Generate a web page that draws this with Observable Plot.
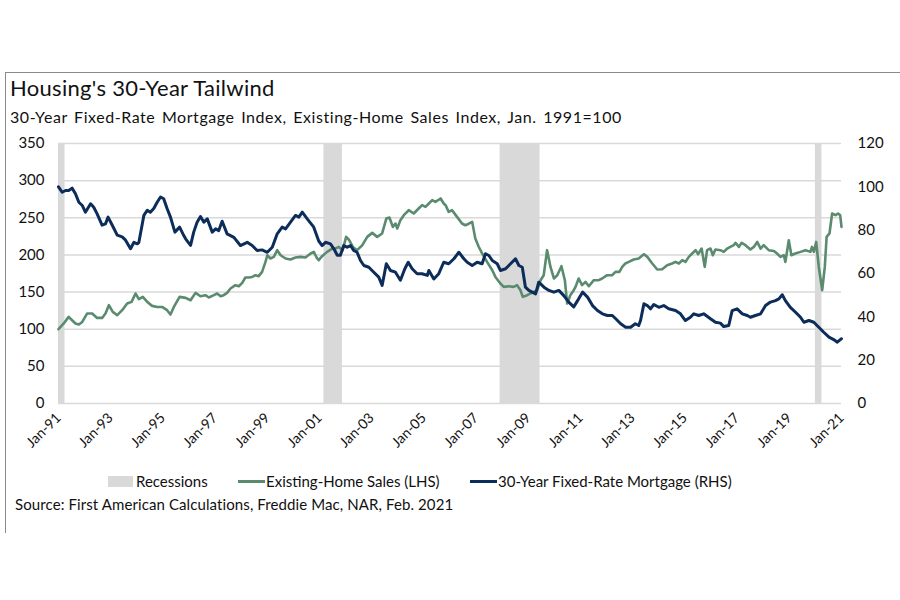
<!DOCTYPE html>
<html>
<head>
<meta charset="utf-8">
<script src="https://cdn.jsdelivr.net/npm/d3@7"></script>
<script src="https://cdn.jsdelivr.net/npm/@observablehq/plot@0.6"></script>
<style>
  html, body { margin: 0; padding: 0; background: #fff; }
  #wrap { position: relative; width: 900px; height: 600px; background: #fff; font-family: Lato, "Open Sans", sans-serif; color: #111; overflow: hidden; }
  #frame { position: absolute; left: 5px; top: 72px; width: 900px; height: 460px; border-top: 1px solid #8a8a8a; border-left: 1px solid #8a8a8a; }
  #title { position: absolute; left: 10px; top: 77px; font-size: 22px; line-height: 21px; letter-spacing: 0.3px; white-space: nowrap; }
  #subtitle { position: absolute; left: 10px; top: 109px; font-size: 16px; line-height: 15px; letter-spacing: 0.55px; word-spacing: 2px; white-space: nowrap; }
  #chart { position: absolute; left: 0; top: 125px; }
  #legend { position: absolute; left: 0; top: 474px; font-size: 15px; line-height: 15px; white-space: nowrap; }
  .item { position: absolute; top: 0; display: flex; align-items: center; }
  .swatch-rect { width: 25px; height: 11px; background: #d9d9d9; margin-right: 3px; }
  .swatch-line { width: 27px; height: 3px; margin-right: 1px; }
  #source { position: absolute; left: 15px; top: 497px; font-size: 15px; line-height: 15px; letter-spacing: 0.1px; white-space: nowrap; }
</style>
</head>
<body>
<div id="wrap">
  <div id="frame"></div>
  <div id="title">Housing's 30-Year Tailwind</div>
  <div id="subtitle">30-Year Fixed-Rate Mortgage Index, Existing-Home Sales Index, Jan. 1991=100</div>
  <div id="chart"></div>
  <div id="legend">
    <div class="item" style="left:108px"><span class="swatch-rect"></span><span>Recessions</span></div>
    <div class="item" style="left:238px"><span class="swatch-line" style="background:#5a8b6f"></span><span>Existing-Home Sales (LHS)</span></div>
    <div class="item" style="left:470px"><span class="swatch-line" style="background:#0c2c59"></span><span>30-Year Fixed-Rate Mortgage (RHS)</span></div>
  </div>
  <div id="source">Source: First American Calculations, Freddie Mac, NAR, Feb. 2021</div>
</div>
<script>
// ---- Data ----
const xTickYears = [1991, 1993, 1995, 1997, 1999, 2001, 2003, 2005, 2007, 2009, 2011, 2013, 2015, 2017, 2019, 2021];
const leftTicks = [0, 50, 100, 150, 200, 250, 300, 350];
const rightTicks = [0, 20, 40, 60, 80, 100, 120];

const recessionStart = [1991.0, 2001.17, 2007.92, 2020.0];
const recessionEnd   = [1991.25, 2001.88, 2009.45, 2020.25];

// 30-Year Fixed-Rate Mortgage index (RHS), Jan. 1991 = 100
const mortgageYears = [1991.0,1991.14,1991.27,1991.39,1991.52,1991.65,1991.78,1991.91,1992.03,1992.23,1992.35,1992.48,1992.67,1992.8,1992.9,1993.06,1993.25,1993.44,1993.57,1993.76,1993.89,1994.02,1994.08,1994.27,1994.4,1994.52,1994.65,1994.78,1994.91,1995.03,1995.16,1995.29,1995.46,1995.64,1995.8,1995.87,1996.06,1996.18,1996.31,1996.44,1996.57,1996.7,1996.89,1997.02,1997.14,1997.27,1997.46,1997.72,1997.97,1998.23,1998.42,1998.61,1998.8,1999.0,1999.19,1999.38,1999.57,1999.7,1999.89,2000.08,2000.21,2000.34,2000.53,2000.78,2000.97,2001.1,2001.23,2001.42,2001.55,2001.68,2001.8,2001.93,2002.06,2002.19,2002.31,2002.44,2002.57,2002.7,2002.89,2003.08,2003.27,2003.4,2003.56,2003.72,2003.91,2004.1,2004.27,2004.4,2004.55,2004.74,2004.93,2005.13,2005.19,2005.38,2005.57,2005.76,2005.95,2006.15,2006.34,2006.53,2006.66,2006.85,2007.04,2007.23,2007.36,2007.49,2007.62,2007.81,2007.93,2008.13,2008.32,2008.51,2008.64,2008.77,2008.89,2009.02,2009.15,2009.28,2009.4,2009.6,2009.79,2009.98,2010.17,2010.36,2010.55,2010.74,2010.93,2011.08,2011.27,2011.46,2011.65,2011.84,2012.03,2012.22,2012.35,2012.54,2012.73,2012.92,2013.1,2013.23,2013.3,2013.43,2013.56,2013.68,2013.81,2014.0,2014.19,2014.38,2014.64,2014.83,2015.02,2015.21,2015.34,2015.53,2015.72,2015.98,2016.17,2016.36,2016.49,2016.68,2016.81,2017.0,2017.2,2017.39,2017.51,2017.7,2017.9,2018.09,2018.28,2018.47,2018.6,2018.73,2018.85,2019.04,2019.24,2019.43,2019.56,2019.75,2019.94,2020.13,2020.32,2020.52,2020.7,2020.84,2021.0];
const mortgageValues = [100,97.5,98.3,98.3,99.4,96.8,92.9,91.4,88.3,92.2,90.6,87.5,82.3,82.9,86,82.3,77.7,76.9,75.4,71.4,74.4,73.7,74.4,86.8,89.2,88.3,90,92.9,95.3,94.5,90,86,79.1,81.4,77.5,76,73,79.1,83.7,86.3,83.7,85.2,79.1,80.6,79.8,84.1,78.3,76.7,72.9,74.4,72.9,70.6,70.9,69.8,72.1,78.3,81.4,80.6,83.7,86.8,86,88.3,85.2,81.4,75,72.9,74.4,73.7,71.4,68.4,68.4,72.9,72.1,72.9,70.6,69.8,66,63.7,62.9,60.6,58.3,54.5,64.5,61.4,60.6,56.9,62.2,65.2,62.2,59.9,59.9,59.1,61.4,57.5,59.9,65.2,64.5,66.8,69.8,66.8,65.2,63.7,65.2,64.5,69.1,68.3,66,64.5,61.4,62.2,64.5,66.8,63.7,62.9,53.7,52.2,51.4,50.6,56,53.7,52.2,51.4,52.2,49.8,46.8,44.6,48.3,51.4,49.1,45.2,42.9,41.4,40.6,40.6,39.1,36.8,35.2,35.2,36.8,36,38.3,46,45.2,43.7,45.7,44.4,45.2,43.7,42.9,41.4,38.3,39.8,41.4,40.6,41.4,39.1,37.5,37.1,35.5,36,42.9,43.7,41.4,40.6,39.8,40.6,41.4,45.2,46.8,47.5,48.3,50.2,47.5,44.4,42.1,39.8,37.5,38.3,37.5,35.2,32.9,30.6,29.5,28.3,29.9];

// Existing-Home Sales index (LHS), Jan. 1991 = 100
const salesYears = [1991.0,1991.2,1991.39,1991.52,1991.65,1991.78,1991.91,1992.1,1992.29,1992.48,1992.67,1992.8,1992.93,1993.08,1993.25,1993.44,1993.63,1993.8,1993.95,1994.08,1994.23,1994.4,1994.59,1994.78,1994.97,1995.16,1995.29,1995.42,1995.64,1995.87,1996.06,1996.25,1996.44,1996.63,1996.76,1996.95,1997.08,1997.21,1997.33,1997.46,1997.59,1997.78,1997.91,1998.04,1998.16,1998.29,1998.42,1998.55,1998.67,1998.8,1998.93,1999.0,1999.12,1999.25,1999.38,1999.51,1999.7,1999.89,2000.08,2000.27,2000.46,2000.66,2000.78,2000.91,2000.97,2001.1,2001.29,2001.49,2001.61,2001.74,2001.89,2002.02,2002.12,2002.28,2002.44,2002.64,2002.83,2003.02,2003.21,2003.4,2003.56,2003.68,2003.81,2003.91,2003.98,2004.1,2004.23,2004.42,2004.61,2004.8,2004.93,2005.06,2005.19,2005.32,2005.44,2005.64,2005.76,2005.83,2005.95,2006.08,2006.27,2006.46,2006.59,2006.72,2006.85,2006.97,2007.1,2007.23,2007.42,2007.62,2007.74,2007.93,2008.06,2008.25,2008.44,2008.57,2008.7,2008.79,2008.96,2009.08,2009.21,2009.34,2009.47,2009.59,2009.72,2009.85,2009.98,2010.11,2010.27,2010.4,2010.49,2010.61,2010.74,2010.81,2010.93,2011.06,2011.19,2011.32,2011.51,2011.7,2011.83,2012.02,2012.21,2012.34,2012.49,2012.6,2012.72,2012.85,2013.04,2013.23,2013.43,2013.56,2013.75,2013.94,2014.13,2014.32,2014.51,2014.64,2014.77,2014.9,2015.02,2015.15,2015.28,2015.41,2015.51,2015.64,2015.76,2015.85,2015.98,2016.07,2016.17,2016.36,2016.49,2016.62,2016.74,2016.87,2016.94,2017.07,2017.17,2017.32,2017.51,2017.64,2017.77,2017.9,2018.02,2018.21,2018.41,2018.53,2018.66,2018.79,2018.85,2018.98,2019.08,2019.23,2019.43,2019.62,2019.81,2019.87,2019.94,2020.03,2020.13,2020.26,2020.36,2020.43,2020.54,2020.64,2020.77,2020.87,2020.95,2021.0];
const salesValues = [100,107.7,116.6,112.1,107.7,106.3,109.8,121.2,121.2,115.2,115.2,121.2,132.3,123.3,118.9,125.6,134.6,136.8,148.1,140.4,143.5,136.8,131.4,130,130,125.6,119.8,130,143.5,142.2,139,148.9,144.4,145.8,142.7,145.8,148.1,144.4,145.8,148.9,154.8,159.3,157.9,162.4,169.6,169.6,170.4,172.7,171.4,177.2,190.6,199.6,195.2,197.4,206.4,199.6,195.2,193.9,196.5,197.4,196.5,201.9,204.1,195.2,192.9,198.3,204.1,208.6,208.6,210.8,206.4,224.3,220.8,210.8,206.4,213.1,224.3,229.7,224.3,228.9,249,250.4,237.7,242.3,235.6,246.8,253.5,260.2,255.8,262.5,267,264.7,269.2,273.7,271.4,276,269.2,267,258,260.2,251.2,242.3,240,242,244.5,222,211,202,190.6,179.4,170.4,161.5,157,157.9,157,159.3,152.5,143.5,145.8,148.1,150.2,152.5,166,172.7,206.4,183.9,168.3,172.7,184.8,166,134.6,145.8,152.5,157,168.3,159.3,163.7,157.9,166,166,168.3,172.7,172.7,177.2,177.2,183.9,188.5,190.6,193.9,195.2,201,197.4,188.5,180.4,180.8,186.2,188.5,190.6,188.5,193,190.6,197.4,201.9,206.4,201,208.6,183.9,206.4,208.6,199.6,207.3,206.4,204.1,208.6,210.8,213.1,216.2,210.8,216.2,213.1,207.3,210.8,217.5,208.6,213.1,206.4,205.4,201.9,197.4,199.6,190.6,219.8,199.6,201.9,204.1,206.4,204.1,210.8,204.1,217.5,183.9,152.5,183.9,224.3,228.9,255.8,253.5,255.8,253.5,237.7];

// ---- Build tables ----
const recessions = recessionStart.map((s, i) => ({start: s, end: recessionEnd[i]}));
const mortgage = mortgageYears.map((y, i) => ({year: y, value: mortgageValues[i]}));
const sales = salesYears.map((y, i) => ({year: y, value: salesValues[i]}));

const LMAX = 350, RMAX = 120;
const toLeft = v => v * LMAX / RMAX;
const green = "#5a8b6f", blue = "#0c2c59", grey = "#d9d9d9";

const chart = Plot.plot({
  width: 900,
  height: 345,
  marginTop: 18,
  marginBottom: 67,
  marginLeft: 58,
  marginRight: 59,
  x: {domain: [1991, 2021], axis: null},
  y: {domain: [0, LMAX], axis: null},
  style: {fontFamily: "Lato, 'Open Sans', sans-serif", fontSize: "15px", color: "#111", background: "transparent", overflow: "visible"},
  marks: [
    Plot.ruleY(leftTicks, {stroke: grey, strokeWidth: 1.5}),
    Plot.rect(recessions, {x1: "start", x2: "end", y1: 0, y2: LMAX, fill: grey}),
    Plot.line(sales, {x: "year", y: "value", stroke: green, strokeWidth: 2.6, strokeLinejoin: "round"}),
    Plot.line(mortgage, {x: "year", y: d => toLeft(d.value), stroke: blue, strokeWidth: 3, strokeLinejoin: "round"}),
    Plot.axisY(leftTicks, {anchor: "left", tickSize: 0, tickPadding: 14, fontSize: 15, label: null}),
    Plot.axisY(rightTicks.map(toLeft), {anchor: "right", tickSize: 0, tickPadding: 16, fontSize: 15, label: null,
      tickFormat: d => String(Math.round(d * RMAX / LMAX))}),
    Plot.axisX(xTickYears, {anchor: "bottom", tickSize: 0, tickPadding: 12, tickRotate: -45, fontSize: 14, label: null,
      tickFormat: d => "Jan-" + String(d).slice(2)})
  ]
});
document.getElementById("chart").appendChild(chart);
</script>
</body>
</html>
